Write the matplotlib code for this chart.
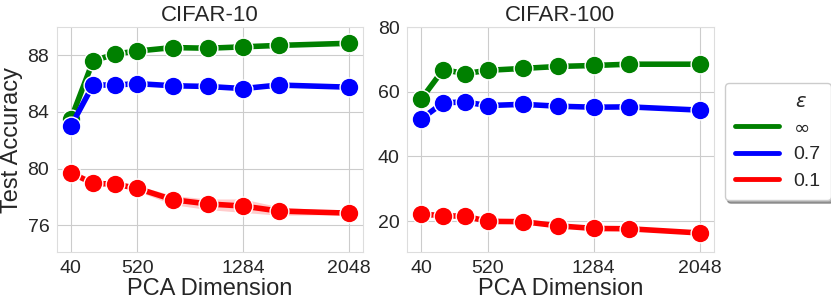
import numpy as np
import matplotlib
matplotlib.use('Agg')
import matplotlib.pyplot as plt
import seaborn as sns

sns.set_style('whitegrid')
plt.rcParams['font.family'] = ['Liberation Sans', 'DejaVu Sans']

# PCA dimensions used in the sweep
dims = [40, 200, 360, 520, 776, 1030, 1284, 1540, 2048]
xticks = [40, 520, 1284, 2048]

# CIFAR-10 test accuracy per epsilon
c10_inf = [83.5, 87.6, 88.1, 88.3, 88.55, 88.5, 88.6, 88.7, 88.85]
c10_07 = [83.0, 85.9, 85.9, 86.0, 85.85, 85.8, 85.65, 85.9, 85.75]
c10_01 = [79.7, 78.95, 78.9, 78.6, 77.8, 77.5, 77.35, 77.0, 76.85]
c10_01_lo = [79.6, 78.85, 78.75, 78.4, 77.45, 77.1, 76.9, 76.7, 76.75]
c10_01_hi = [79.8, 79.05, 79.05, 78.8, 78.1, 77.85, 77.85, 77.3, 76.95]

# CIFAR-100 test accuracy per epsilon
c100_inf = [57.6, 66.8, 65.6, 66.6, 67.2, 67.8, 68.1, 68.5, 68.5]
c100_07 = [51.5, 56.6, 56.8, 55.7, 56.1, 55.5, 55.2, 55.3, 54.3]
c100_01 = [22.2, 21.6, 21.5, 19.9, 19.8, 18.5, 17.7, 17.6, 16.3]

labels = [r'$\infty$', '0.7', '0.1']
colors = ['green', 'blue', 'red']

fig = plt.figure(figsize=(8.31, 3.07), dpi=100)
ax1 = fig.add_axes([0.0686, 0.179, 0.368, 0.733])
ax2 = fig.add_axes([0.4898, 0.179, 0.369, 0.733])

def draw(ax, series):
    for ys, c, lab in zip(series, colors, labels):
        ax.plot(dims, ys, color=c, lw=4, marker='o', ms=13.5,
                mec='white', mew=1.0, label=lab)
    ax.set_xticks(xticks)
    ax.tick_params(labelsize=14, pad=2)
    ax.set_xlabel('PCA Dimension', fontsize=17, labelpad=1)
    for s in ax.spines.values():
        s.set_color('#dddddd')

draw(ax1, [c10_inf, c10_07, c10_01])
ax1.fill_between(dims, c10_01_lo, c10_01_hi, color='red', alpha=0.2, lw=0)
ax1.set_ylim(74.1, 90.0)
ax1.set_yticks([76, 80, 84, 88])
ax1.set_ylabel('Test Accuracy', fontsize=17, labelpad=3)
ax1.set_title('CIFAR-10', fontsize=16, pad=4)

draw(ax2, [c100_inf, c100_07, c100_01])
ax2.set_ylim(10.4, 80)
ax2.set_yticks([20, 40, 60, 80])
ax2.set_title('CIFAR-100', fontsize=16, pad=4)

leg_handles = [plt.Line2D([], [], color=c, lw=3.5) for c in colors]
leg = fig.legend(leg_handles, labels, title=r'         $\varepsilon$', loc='upper left',
                 bbox_to_anchor=(0.872, 0.730), fontsize=14, title_fontsize=14,
                 frameon=True, shadow=True, fancybox=True, handlelength=2.25,
                 handletextpad=0.72, borderpad=0.55, borderaxespad=0,
                 labelspacing=0.45)
leg.get_frame().set_edgecolor('#cccccc')

fig.savefig('out.png', dpi=100)
